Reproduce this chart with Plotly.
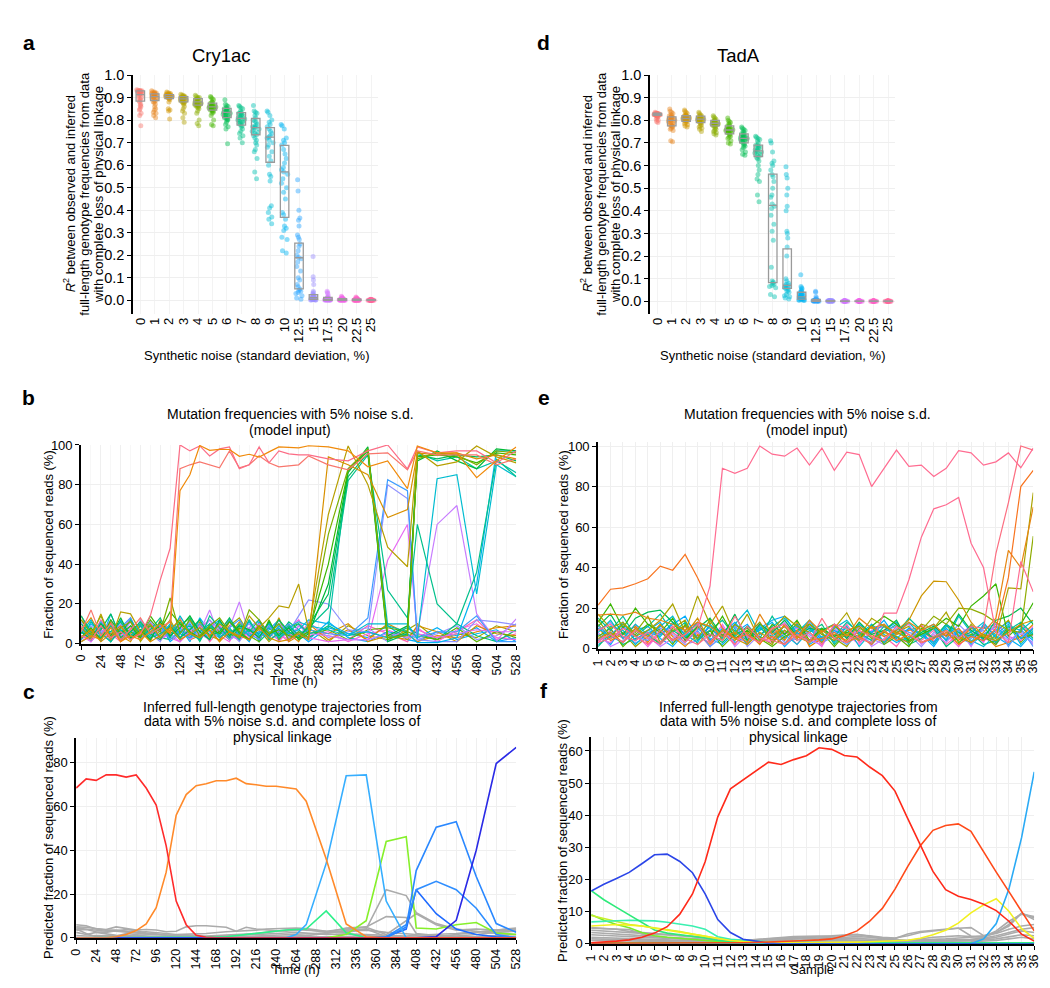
import math
import plotly.graph_objects as go

W, H = 1050, 988

# ---------------- Panel a / d : R^2 by synthetic noise ----------------
CATS = ["0", "1", "2", "3", "4", "5", "6", "7", "8", "9", "10", "12.5", "15", "17.5", "20", "22.5", "25"]

cry_0 = [0.93, 0.925, 0.935, 0.92, 0.93, 0.915, 0.928, 0.932, 0.91, 0.92, 0.905, 0.93, 0.925, 0.915, 0.9, 0.895, 0.89, 0.885, 0.88, 0.93, 0.92, 0.87, 0.865, 0.86, 0.85, 0.845, 0.83, 0.82, 0.775, 0.926]
cry_1 = [0.93, 0.925, 0.92, 0.915, 0.91, 0.905, 0.92, 0.915, 0.9, 0.91, 0.895, 0.92, 0.89, 0.885, 0.9, 0.88, 0.87, 0.86, 0.85, 0.845, 0.835, 0.83, 0.82, 0.81, 0.925, 0.912, 0.905, 0.918, 0.896, 0.88]
cry_2 = [0.925, 0.92, 0.915, 0.91, 0.91, 0.905, 0.9, 0.915, 0.908, 0.912, 0.9, 0.895, 0.92, 0.905, 0.91, 0.902, 0.898, 0.89, 0.915, 0.9, 0.91, 0.85, 0.845, 0.84, 0.805, 0.88, 0.918, 0.906, 0.9, 0.912]
cry_3 = [0.915, 0.91, 0.905, 0.9, 0.9, 0.895, 0.89, 0.885, 0.88, 0.9, 0.91, 0.905, 0.895, 0.89, 0.885, 0.88, 0.875, 0.87, 0.86, 0.85, 0.84, 0.83, 0.81, 0.79, 0.9, 0.895, 0.905, 0.888, 0.892, 0.878]
cry_4 = [0.91, 0.905, 0.9, 0.895, 0.89, 0.885, 0.88, 0.875, 0.87, 0.865, 0.86, 0.9, 0.89, 0.88, 0.87, 0.86, 0.885, 0.875, 0.87, 0.855, 0.85, 0.84, 0.83, 0.8, 0.785, 0.775, 0.895, 0.88, 0.868, 0.862]
cry_5 = [0.905, 0.9, 0.895, 0.89, 0.88, 0.875, 0.87, 0.865, 0.86, 0.855, 0.85, 0.845, 0.84, 0.87, 0.865, 0.86, 0.855, 0.85, 0.845, 0.84, 0.835, 0.83, 0.82, 0.8, 0.78, 0.775, 0.88, 0.862, 0.858, 0.85]
cry_6 = [0.89, 0.87, 0.865, 0.86, 0.855, 0.85, 0.845, 0.84, 0.835, 0.83, 0.825, 0.82, 0.815, 0.81, 0.805, 0.8, 0.85, 0.84, 0.83, 0.82, 0.81, 0.8, 0.79, 0.78, 0.77, 0.76, 0.695, 0.845, 0.835, 0.825]
cry_7 = [0.865, 0.86, 0.855, 0.85, 0.84, 0.835, 0.83, 0.825, 0.82, 0.815, 0.81, 0.805, 0.8, 0.795, 0.79, 0.785, 0.78, 0.775, 0.77, 0.76, 0.75, 0.74, 0.73, 0.72, 0.7, 0.82, 0.81, 0.8, 0.79, 0.83]
cry_8 = [0.865, 0.84, 0.835, 0.83, 0.82, 0.81, 0.8, 0.795, 0.79, 0.78, 0.775, 0.77, 0.765, 0.76, 0.755, 0.75, 0.745, 0.74, 0.735, 0.73, 0.72, 0.71, 0.7, 0.69, 0.67, 0.66, 0.63, 0.57, 0.54, 0.77]
cry_9 = [0.84, 0.835, 0.82, 0.8, 0.79, 0.78, 0.77, 0.76, 0.75, 0.74, 0.73, 0.725, 0.72, 0.71, 0.7, 0.69, 0.68, 0.66, 0.64, 0.62, 0.6, 0.56, 0.55, 0.53, 0.42, 0.41, 0.39, 0.37, 0.36, 0.34]
cry_10 = [0.78, 0.775, 0.76, 0.72, 0.71, 0.7, 0.69, 0.67, 0.65, 0.63, 0.61, 0.59, 0.58, 0.57, 0.56, 0.54, 0.52, 0.5, 0.48, 0.45, 0.39, 0.38, 0.36, 0.33, 0.32, 0.31, 0.28, 0.27, 0.22, 0.21]
cry_12_5 = [0.535, 0.485, 0.4, 0.365, 0.355, 0.33, 0.29, 0.28, 0.27, 0.25, 0.24, 0.22, 0.2, 0.19, 0.185, 0.17, 0.15, 0.13, 0.1, 0.09, 0.07, 0.06, 0.05, 0.045, 0.04, 0.035, 0.03, 0.02, 0.01, 0.005]
cry_15 = [0.195, 0.105, 0.09, 0.07, 0.04, 0.035, 0.03, 0.025, 0.02, 0.02, 0.018, 0.015, 0.012, 0.012, 0.01, 0.01, 0.008, 0.008, 0.006, 0.005, 0.005, 0.004, 0.003, 0.003, 0.002, 0.002, 0.001, 0.001, 0.015, 0.01]
cry_17_5 = [0.04, 0.035, 0.03, 0.02, 0.015, 0.012, 0.01, 0.01, 0.008, 0.007, 0.006, 0.005, 0.005, 0.004, 0.004, 0.003, 0.003, 0.002, 0.002, 0.002, 0.001, 0.001, 0.001, 0.0, 0.0, 0.006, 0.005, 0.004, 0.003, 0.002]
cry_20 = [0.018, 0.015, 0.012, 0.01, 0.008, 0.007, 0.006, 0.005, 0.004, 0.004, 0.003, 0.003, 0.002, 0.002, 0.002, 0.001, 0.001, 0.001, 0.0, 0.0, 0.005, 0.004, 0.003, 0.002, 0.001, 0.0, 0.006, 0.003, 0.002, 0.001]
cry_22_5 = [0.015, 0.012, 0.01, 0.008, 0.006, 0.005, 0.004, 0.003, 0.003, 0.002, 0.002, 0.002, 0.001, 0.001, 0.001, 0.0, 0.0, 0.0, 0.004, 0.003, 0.002, 0.001, 0.0, 0.005, 0.003, 0.002, 0.001, 0.0, 0.002, 0.001]
cry_25 = [0.005, 0.004, 0.003, 0.003, 0.002, 0.002, 0.002, 0.001, 0.001, 0.001, 0.001, 0.0, 0.0, 0.0, 0.0, 0.003, 0.002, 0.001, 0.0, 0.0, 0.002, 0.001, 0.0, 0.001, 0.0, 0.002, 0.001, 0.0, 0.001, 0.0]

CRY_Q1 = [0.884, 0.887, 0.895, 0.881, 0.866, 0.844, 0.811, 0.778, 0.735, 0.613, 0.368, 0.051, 0.004, 0.0, 0.0, 0.0, 0.0]
CRY_MED = [0.913, 0.904, 0.904, 0.894, 0.881, 0.859, 0.834, 0.808, 0.767, 0.724, 0.570, 0.189, 0.012, 0.004, 0.003, 0.002, 0.001]
CRY_Q3 = [0.930, 0.916, 0.913, 0.904, 0.895, 0.875, 0.852, 0.833, 0.807, 0.767, 0.688, 0.254, 0.025, 0.013, 0.008, 0.005, 0.003]

tad_0 = [0.835, 0.832, 0.83, 0.83, 0.828, 0.826, 0.826, 0.825, 0.824, 0.822, 0.82, 0.83, 0.828, 0.826, 0.824, 0.822, 0.82, 0.818, 0.815, 0.81, 0.805, 0.8, 0.795, 0.79, 0.827, 0.829, 0.825, 0.823, 0.831, 0.826]
tad_1 = [0.85, 0.84, 0.835, 0.83, 0.825, 0.82, 0.815, 0.81, 0.805, 0.8, 0.8, 0.795, 0.79, 0.785, 0.78, 0.775, 0.77, 0.765, 0.76, 0.755, 0.82, 0.81, 0.8, 0.79, 0.78, 0.775, 0.71, 0.705, 0.805, 0.812]
tad_2 = [0.845, 0.84, 0.835, 0.83, 0.825, 0.82, 0.815, 0.81, 0.81, 0.805, 0.8, 0.8, 0.795, 0.79, 0.785, 0.78, 0.775, 0.77, 0.82, 0.815, 0.81, 0.805, 0.8, 0.812, 0.808, 0.818, 0.798, 0.822, 0.806, 0.81]
tad_3 = [0.835, 0.83, 0.825, 0.82, 0.815, 0.81, 0.81, 0.805, 0.8, 0.8, 0.795, 0.79, 0.785, 0.78, 0.775, 0.77, 0.765, 0.76, 0.75, 0.82, 0.815, 0.805, 0.8, 0.81, 0.808, 0.802, 0.812, 0.798, 0.79, 0.806]
tad_4 = [0.82, 0.815, 0.81, 0.805, 0.8, 0.795, 0.79, 0.79, 0.785, 0.785, 0.78, 0.78, 0.775, 0.77, 0.765, 0.76, 0.755, 0.75, 0.745, 0.74, 0.735, 0.8, 0.795, 0.79, 0.785, 0.78, 0.775, 0.788, 0.792, 0.782]
tad_5 = [0.81, 0.8, 0.795, 0.79, 0.785, 0.78, 0.775, 0.77, 0.765, 0.76, 0.76, 0.755, 0.75, 0.75, 0.745, 0.74, 0.735, 0.73, 0.725, 0.72, 0.71, 0.7, 0.695, 0.77, 0.76, 0.755, 0.75, 0.745, 0.762, 0.758]
tad_6 = [0.77, 0.765, 0.76, 0.755, 0.75, 0.745, 0.74, 0.735, 0.73, 0.725, 0.72, 0.72, 0.715, 0.71, 0.705, 0.7, 0.695, 0.69, 0.685, 0.68, 0.67, 0.66, 0.65, 0.645, 0.73, 0.72, 0.71, 0.725, 0.715, 0.735]
tad_7 = [0.73, 0.725, 0.72, 0.715, 0.71, 0.7, 0.69, 0.685, 0.68, 0.675, 0.67, 0.665, 0.66, 0.655, 0.65, 0.645, 0.64, 0.635, 0.63, 0.62, 0.6, 0.58, 0.56, 0.54, 0.53, 0.47, 0.44, 0.67, 0.66, 0.69]
tad_8 = [0.71, 0.7, 0.66, 0.62, 0.61, 0.6, 0.58, 0.56, 0.55, 0.53, 0.5, 0.47, 0.46, 0.43, 0.42, 0.41, 0.38, 0.34, 0.31, 0.27, 0.15, 0.09, 0.085, 0.08, 0.075, 0.07, 0.065, 0.06, 0.03, 0.02]
tad_9 = [0.595, 0.56, 0.545, 0.5, 0.47, 0.42, 0.4, 0.31, 0.3, 0.28, 0.24, 0.2, 0.1, 0.09, 0.08, 0.075, 0.07, 0.065, 0.06, 0.06, 0.055, 0.05, 0.045, 0.04, 0.03, 0.025, 0.02, 0.015, 0.01, 0.07]
tad_10 = [0.117, 0.065, 0.06, 0.055, 0.05, 0.045, 0.04, 0.035, 0.03, 0.03, 0.025, 0.02, 0.02, 0.018, 0.015, 0.015, 0.012, 0.01, 0.01, 0.008, 0.008, 0.006, 0.005, 0.005, 0.004, 0.03, 0.025, 0.02, 0.04, 0.035]
tad_12_5 = [0.045, 0.04, 0.02, 0.015, 0.01, 0.008, 0.006, 0.005, 0.004, 0.004, 0.003, 0.003, 0.002, 0.002, 0.002, 0.001, 0.001, 0.001, 0.0, 0.0, 0.005, 0.004, 0.003, 0.002, 0.001, 0.0, 0.006, 0.003, 0.002, 0.001]
tad_15 = [0.004, 0.003, 0.003, 0.002, 0.002, 0.002, 0.001, 0.001, 0.001, 0.001, 0.0, 0.0, 0.0, 0.0, 0.003, 0.002, 0.002, 0.001, 0.001, 0.0]
tad_17_5 = [0.003, 0.002, 0.002, 0.001, 0.001, 0.001, 0.0, 0.0, 0.0, 0.002, 0.001, 0.001, 0.0, 0.0, 0.002, 0.001, 0.0, 0.001, 0.0, 0.0]
tad_20 = [0.003, 0.002, 0.001, 0.001, 0.001, 0.0, 0.0, 0.0, 0.002, 0.001, 0.001, 0.0, 0.0, 0.002, 0.001, 0.0, 0.001, 0.0, 0.0, 0.001]
tad_22_5 = [0.002, 0.002, 0.001, 0.001, 0.0, 0.0, 0.0, 0.001, 0.001, 0.0, 0.0, 0.002, 0.001, 0.0, 0.001, 0.0, 0.0, 0.001, 0.0, 0.0]
tad_25 = [0.002, 0.001, 0.001, 0.0, 0.0, 0.0, 0.001, 0.0, 0.0, 0.001, 0.0, 0.0, 0.002, 0.001, 0.0, 0.0, 0.001, 0.0, 0.0, 0.0]

TAD_Q1 = [0.822, 0.775, 0.795, 0.79, 0.775, 0.74, 0.70, 0.64, 0.083, 0.057, 0.01, 0.0, 0.0, 0.0, 0.0, 0.0, 0.0]
TAD_MED = [0.826, 0.80, 0.808, 0.805, 0.787, 0.757, 0.72, 0.665, 0.424, 0.07, 0.02, 0.003, 0.001, 0.0, 0.0, 0.0, 0.0]
TAD_Q3 = [0.832, 0.815, 0.82, 0.818, 0.80, 0.775, 0.74, 0.69, 0.562, 0.232, 0.04, 0.008, 0.003, 0.002, 0.002, 0.002, 0.002]

R2_TICKS = [0.0, 0.1, 0.2, 0.3, 0.4, 0.5, 0.6, 0.7, 0.8, 0.9, 1.0]
R2_TICKTEXT = ["0.0", "0.1", "0.2", "0.3", "0.4", "0.5", "0.6", "0.7", "0.8", "0.9", "1.0"]

# ---------------- Panels b / c : Cry1ac time course ----------------
TIME_H = [0, 12, 24, 36, 48, 60, 72, 84, 96, 108, 120, 132, 144, 156, 168, 180, 192, 204, 216, 228, 240, 252, 264, 276,
          300, 324, 348, 372, 396, 408, 432, 456, 480, 504, 528]
TIME_TICKS = [0, 24, 48, 72, 96, 120, 144, 168, 192, 216, 240, 264, 288, 312, 336, 360, 384, 408, 432, 456, 480, 504, 528]

b_pinkA = [4, 2, 9, 3, 6, 2, 5, 14, 32, 48, 100, 97, 99.5, 94.5, 98, 99, 88, 90, 99, 91, 97, 95.5, 95, 95] + [93, 92, 97, 100, 88, 99, 96, 97, 97, 91, 97]
b_salmon = [6, 17, 4, 10, 2, 7, 13, 5, 8, 11, 88, 90, 91.5, 90, 88.5, 97, 88.5, 90, 94.5, 91, 89, 89.5, 90, 94.5] + [90, 87.5, 95.5, 96, 87.5, 97, 95, 95, 95, 90, 93]
b_orange = [1, 4, 2, 8, 1, 4, 2, 6, 10, 5, 77, 85, 99.7, 97.3, 97.8, 97.7, 94.3, 95.3, 93.9, 96.5, 99, 98.8, 98.5, 99.6] + [99, 97, 89, 92, 78, 99.5, 96, 96, 83.5, 92, 99]
b_gold = [3, 7, 1, 5, 9, 2, 6, 1, 4, 8, 2, 5, 3, 7, 1, 6, 4, 2, 8, 3, 1, 2, 5, 2] + [94, 90, 85, 63.5, 67.5, 96, 95, 96, 93, 95, 93]
b_olive = [8, 3, 15, 2, 16, 15, 6, 10, 3, 7, 12, 5, 8, 4, 10, 6, 3, 14, 8, 13, 19, 18, 30, 7] + [65, 99.5, 80, 48.5, 38.7, 97, 89.5, 91.5, 99.5, 94, 91]
b_yg = [12, 5, 14, 3, 8, 11, 4, 9, 6, 23, 5, 12, 4, 9, 13, 6, 3, 17, 12, 5, 10, 2, 6, 3] + [55, 88, 98, 3, 4, 93, 96, 95, 90, 97, 96]
b_green1 = [3, 8, 2, 12, 5, 9, 3, 14, 7, 16, 10, 6, 3, 8, 5, 11, 6, 2, 9, 5, 7, 4, 3, 6] + [40, 87, 97, 2, 6, 94, 95, 94, 91, 96, 95]
b_green2 = [6, 2, 10, 4, 13, 3, 7, 2, 11, 4, 8, 14, 6, 2, 12, 4, 9, 7, 3, 11, 4, 8, 2, 5] + [30, 86, 99, 4, 9, 92, 97, 92, 88, 98, 97]
b_green3 = [10, 4, 7, 15, 3, 6, 11, 5, 2, 9, 3, 7, 12, 4, 6, 13, 5, 2, 8, 4, 12, 6, 3, 9] + [25, 84, 96, 1, 5, 95, 93, 95, 94, 95, 92]
b_tg1 = [14, 6, 3, 9, 5, 12, 4, 7, 13, 3, 11, 5, 2, 14, 8, 3, 10, 6, 12, 2, 5, 9, 4, 8] + [18, 82, 95, 27, 13, 60, 20, 10, 36, 93, 84]
b_tg2 = [2, 11, 5, 1, 7, 4, 9, 3, 5, 8, 2, 13, 6, 10, 3, 7, 2, 12, 4, 8, 3, 6, 10, 5] + [8, 88, 97, 9, 6, 96, 92, 94, 88, 92, 86]
b_cyan1 = [5, 12, 3, 9, 2, 6, 10, 4, 11, 3, 14, 6, 2, 9, 4, 12, 3, 7, 5, 10, 3, 8, 11, 9] + [7, 4, 10, 10, 10, 2.5, 83, 85, 25, 90, 84]
b_cyan2 = [8, 3, 10, 5, 7, 2, 9, 6, 4, 10, 5, 3, 8, 2, 11, 5, 9, 4, 6, 3, 9, 5, 7, 12] + [10, 5, 6, 3, 5, 0.5, 0.5, 3, 30, 97, 97]
b_blue = [7, 2, 11, 4, 8, 13, 3, 6, 9, 2, 7, 4, 10, 6, 3, 8, 12, 5, 2, 9, 6, 10, 4, 7] + [5, 4, 13, 82.5, 77, 3, 6, 6, 14, 1, 1]
b_lav = [3, 9, 5, 12, 2, 7, 4, 11, 6, 9, 3, 8, 5, 12, 7, 2, 6, 10, 4, 8, 10, 6, 14, 22] + [20, 7, 6, 80, 73, 2, 1, 1, 12, 11, 9.5]
b_purple = [2, 6, 3, 8, 4, 11, 5, 3, 7, 4, 9, 2, 6, 17, 3, 8, 21, 5, 10, 4, 7, 3, 9, 5] + [4, 2, 2, 5, 3, 5, 60, 69.5, 15, 1.5, 12.5]
b_magenta = [4, 1, 7, 2, 9, 3, 6, 8, 2, 5, 1, 7, 3, 5, 9, 4, 2, 6, 3, 8, 5, 2, 4, 3] + [1, 2, 2, 42, 60, 5, 3, 5, 7, 6, 6]
b_n1 = [9, 3, 12, 5, 1, 8, 4, 11, 2, 6, 13, 3, 9, 1, 7, 12, 4, 8, 2, 10, 5, 1, 9, 6] + [4, 2, 9, 5, 1, 7, 3, 6, 12, 2, 5]
b_n2 = [2, 10, 6, 1, 12, 4, 7, 3, 9, 1, 5, 10, 2, 8, 12, 3, 6, 1, 11, 4, 8, 3, 5, 1] + [8, 5, 3, 9, 2, 1, 6, 4, 8, 1, 3]
b_n3 = [14, 5, 2, 9, 6, 11, 1, 8, 5, 12, 3, 7, 11, 4, 2, 9, 13, 5, 7, 1, 6, 10, 2, 8] + [1, 9, 4, 2, 7, 10, 2, 5, 3, 9, 6]
b_n4 = [5, 8, 1, 15, 3, 9, 6, 2, 10, 4, 8, 1, 13, 6, 9, 2, 5, 11, 3, 7, 12, 4, 6, 2] + [11, 3, 1, 6, 4, 3, 8, 2, 5, 7, 1]
b_n5 = [11, 1, 7, 4, 10, 2, 12, 5, 1, 9, 3, 11, 5, 2, 10, 6, 1, 8, 12, 5, 2, 9, 3, 11] + [3, 6, 8, 1, 9, 2, 5, 9, 2, 4, 10]
b_n6 = [3, 6, 9, 2, 5, 13, 2, 10, 7, 3, 1, 6, 8, 12, 4, 1, 9, 3, 6, 10, 1, 7, 12, 4] + [6, 1, 5, 7, 3, 8, 1, 7, 10, 3, 2]
b_n7 = [7, 13, 4, 10, 1, 5, 9, 1, 12, 6, 10, 2, 4, 7, 1, 11, 7, 2, 10, 3, 9, 5, 1, 10] + [2, 7, 2, 10, 5, 1, 4, 3, 6, 8, 9]
b_n8 = [1, 4, 8, 6, 11, 3, 7, 9, 3, 2, 6, 9, 1, 10, 5, 8, 2, 12, 1, 6, 4, 11, 7, 3] + [9, 4, 6, 3, 8, 5, 2, 10, 4, 1, 7]
b_n9 = [12, 7, 3, 11, 4, 1, 10, 6, 8, 11, 2, 5, 10, 3, 8, 4, 11, 6, 9, 2, 13, 1, 4, 7] + [5, 10, 1, 4, 2, 9, 6, 1, 9, 5, 4]
b_n10 = [4, 2, 11, 1, 8, 6, 3, 12, 6, 5, 9, 13, 3, 9, 6, 2, 8, 4, 1, 12, 2, 8, 10, 5] + [7, 2, 7, 8, 6, 4, 2, 8, 1, 6, 3]

c_red = [68.4, 72.6, 71.9, 74.4, 74.4, 73.4, 74.4, 68.4, 60.6, 42, 16.8, 6, 1.2, 0.2, 0, 0, 0, 0, 0, 0, 0, 0, 0, 0] + [0, 0, 0, 0, 0, 0, 0, 0, 0, 0, 0]
c_orange = [0, 0, 0, 0, 0.5, 1.5, 3.3, 6.3, 13.8, 30, 56, 65.4, 69.5, 70.4, 71.7, 71.7, 72.9, 70.4, 69.9, 69.2, 69.2, 68.6, 68, 62.4] + [36, 6.3, 0.5, 0, 0, 0, 0, 0, 0, 0, 0]
c_lightblue = [0, 0, 0, 0, 0, 0, 0, 0, 0, 0, 0, 0, 0, 0, 0, 0, 0, 0, 0, 0, 0, 0, 1.5, 6] + [34, 74, 74.4, 16.8, 0, 0, 0, 0, 0, 0, 0]
c_spring = [0, 0, 0, 0, 0, 0, 0, 0, 0, 0, 0, 0, 0, 0, 0.3, 0.5, 1, 1.5, 2, 2.8, 3.3, 3.6, 3.8, 4] + [12.3, 2.3, 0, 0, 0, 0, 0, 0, 0, 0, 0]
c_lime = [0, 0, 0, 0, 0, 0, 0, 0, 0, 0, 0, 0, 0, 0, 0, 0, 0, 0, 0, 0, 0, 0, 0, 0] + [0, 1.5, 7.8, 44, 46.2, 4.5, 4, 6, 7, 2.2, 1.5]
c_blueA = [0, 0, 0, 0, 0, 0, 0, 0, 0, 0, 0, 0, 0, 0, 0, 0, 0, 0, 0, 0, 0, 0, 0, 0] + [0, 0, 0, 0, 5, 30.7, 50.5, 53, 28, 6.5, 2.5]
c_blueB = [0, 0, 0, 0, 0, 0, 0, 0, 0, 0, 0, 0, 0, 0, 0, 0, 0, 0, 0, 0, 0, 0, 0, 0] + [0, 0, 0, 0.5, 6, 22, 25.8, 22, 13.5, 1.5, 0]
c_blueC = [0, 0, 0, 0, 0, 0, 0, 0, 0, 0, 0, 0, 0, 0, 0, 0, 0, 0, 0, 0, 0, 0, 0, 0] + [0, 0, 0, 0.5, 4, 22, 11, 4, 1.5, 0.5, 0]
c_darkblue = [0, 0, 0, 0, 0, 0, 0, 0, 0, 0, 0, 0, 0, 0, 0, 0, 0, 0, 0, 0, 0, 0, 0, 0] + [0, 0, 0, 0, 0, 0, 0.5, 8, 40, 79.6, 87]
c_g1 = [6, 5.5, 4, 3.5, 3.5, 3, 2.5, 2.8, 2.5, 2, 1.5, 1.5, 1.8, 2, 2.5, 2.8, 3, 3.2, 3.5, 4, 4.2, 4.5, 4.5, 4.2] + [3, 2.5, 4, 22, 19.3, 11.5, 6.5, 4, 3, 2, 1.5]
c_g2 = [5, 4.8, 4.2, 3.8, 5, 4.3, 3.5, 3.8, 3.6, 2.8, 3, 5, 5.5, 5.5, 5, 4.8, 3, 4.8, 4, 3.5, 3.2, 3, 3.5, 3.8] + [2.5, 4.5, 5, 9.7, 9.3, 2, 1, 0.8, 1.5, 2.5, 3]
c_g3 = [4.5, 4, 3.2, 3, 3, 2.5, 2, 1.8, 1.5, 1.5, 1.2, 1, 0.8, 0.8, 1, 1.2, 1.5, 1.8, 2, 2.5, 3, 3.5, 4, 3.5] + [3, 4, 4.8, 1.5, 8, 11, 6, 3.5, 4, 3.5, 4]
c_g4 = [3.5, 3.8, 2.8, 2.5, 3.2, 3.8, 3.2, 2.2, 1.8, 1.2, 1, 0.8, 0.5, 0.5, 0.5, 0.8, 1, 1.2, 1.5, 1.8, 2, 2.2, 2.5, 2.2] + [1.5, 1.8, 1.5, 1, 0.8, 1.2, 1.5, 2, 2.8, 3, 3.5]
c_g5 = [2.5, 1.5, 2.5, 1.8, 1.2, 1, 1.2, 1.5, 1.5, 1.2, 0.8, 0.5, 0.3, 0.3, 0.3, 0.4, 0.5, 0.6, 0.8, 1, 1.2, 1.4, 1.6, 1.8] + [2.2, 3, 3.5, 2.5, 2, 1.5, 0.8, 0.5, 0.5, 0.5, 0.5]
c_g6 = [1, 0.8, 1, 0.9, 0.8, 0.7, 0.6, 0.5, 0.5, 0.4, 0.4, 0.3, 0.3, 0.3, 0.3, 0.3, 0.3, 0.3, 0.4, 0.5, 0.6, 0.7, 0.8, 1] + [2, 3.5, 4, 0.5, 0.2, 0.2, 0.5, 1.5, 2.5, 3.5, 4.5]
c_g7 = [4, 2, 0.5, 1, 0.8, 2, 1.5, 0.6, 0.5, 0.5, 0.3, 0.3, 0.2, 0.2, 0.2, 0.2, 0.2, 0.2, 0.2, 0.2, 0.3, 0.3, 0.3, 0.4] + [0.5, 0.6, 1, 0.3, 0.2, 0.2, 0.2, 0.3, 0.5, 1, 1.5]

# ---------------- Panels e / f : TadA samples ----------------
SAMPLES = list(range(1, 37))

e_pink1 = [4, 7, 3, 9, 5, 2, 8, 3, 10, 31, 89, 86.5, 89, 100, 96, 95, 99, 90.6, 99, 88, 97, 95.8, 80, 89, 98, 90, 90.6, 85, 89, 97.7, 96.6, 90.6, 92.2, 96.6, 89.3, 99]
e_pink2 = [9, 12, 6, 4, 8, 3, 11, 5, 2, 7, 4, 16, 6, 3, 10, 12, 4, 8, 2, 12, 10, 5, 3, 17.5, 17.5, 34, 55, 69, 71, 74.6, 52, 40, 8, 3, 43, 28]
e_pink3 = [3, 5, 10, 6, 2, 9, 4, 7, 12, 3, 8, 2, 11, 5, 4, 2, 7, 3, 15, 5, 3, 9, 6, 4, 11, 7, 3, 6, 9, 5, 11, 10, 47, 72, 100, 98]
e_orange1 = [21.5, 29.3, 30, 32, 34.5, 40.7, 38.7, 46.5, 35, 22, 10, 5, 7, 3, 6, 2, 9, 4, 5, 8, 3, 6, 2, 9, 4, 7, 3, 5, 8, 2, 6, 4, 10, 35, 80, 88]
e_orange2 = [16.5, 17, 16.5, 18, 15, 14, 12, 9, 13, 11, 6, 8, 3, 17, 7, 11, 5, 14, 8, 12, 6, 15, 10, 12, 7, 13, 9, 12, 6, 10, 3, 8, 15, 48.5, 40, 70]
e_gold = [5, 8, 3, 10, 6, 12, 4, 7, 15, 3, 9, 5, 2, 8, 4, 12, 6, 3, 9, 5, 7, 4, 11, 6, 9, 14, 26, 33.3, 33, 24, 13, 6, 4, 8, 12, 14]
e_olive = [17, 10, 13, 6, 9, 14, 22, 8, 26, 12, 21, 7, 17, 4, 9, 16, 11, 8, 3, 10, 17.7, 6, 15, 11, 8, 5, 12, 10, 18, 6, 3, 7, 5, 30, 29.5, 77]
e_yg = [14, 6, 12, 8, 16, 3, 9, 11, 5, 14, 4, 12, 7, 13, 3, 9, 5, 12, 7, 4, 9, 11, 5, 8, 6, 3, 9, 16, 12, 20, 19.5, 17, 13, 9, 8, 55.5]
e_green1 = [13, 22, 10, 20, 12, 8, 15, 4, 11, 6, 16, 5, 9, 3, 12, 7, 14, 4, 10, 6, 8, 5, 11, 16, 12, 4, 7, 10, 15, 11, 21, 26, 32, 6, 12, 22.6]
e_green2 = [11, 17, 7, 15, 18, 19, 13, 5, 10, 15, 6, 17, 4, 12, 8, 14, 6, 10, 9, 12, 5, 13, 7, 9, 14, 3, 8, 11, 6, 17, 9, 5, 14, 16, 20, 12]
e_teal = [15, 9, 16, 6, 11, 17, 8, 13, 4, 9, 14, 6, 11, 5, 16, 7, 12, 3, 10, 6, 13, 8, 4, 11, 7, 15, 9, 5, 12, 8, 6, 11, 3, 9, 13, 7]
e_cyan = [8, 14, 5, 12, 7, 11, 16, 6, 13, 10, 5, 12, 19, 7, 11, 15, 8, 14, 5, 10, 14, 7, 12, 3, 9, 13, 6, 10, 4, 16, 8, 13, 5, 11, 9, 14]
e_blue = [10, 6, 13, 4, 9, 7, 12, 16, 5, 11, 8, 13, 6, 10, 14, 16, 7, 11, 4, 9, 6, 12, 8, 14, 5, 10, 7, 3, 12, 6, 11, 4, 9, 13, 5, 10]
e_n1 = [3, 9, 5, 12, 2, 7, 11, 4, 8, 1, 10, 6, 3, 13, 5, 9, 2, 11, 7, 4, 12, 3, 8, 6, 1, 10, 4, 9, 2, 7, 11, 5, 3, 8, 12, 6]
e_n2 = [7, 2, 11, 4, 9, 13, 3, 6, 10, 5, 2, 8, 12, 4, 9, 1, 7, 10, 3, 11, 6, 8, 2, 9, 13, 4, 7, 1, 10, 5, 3, 12, 6, 2, 9, 4]
e_n3 = [12, 5, 8, 1, 6, 3, 10, 14, 2, 9, 7, 4, 11, 6, 2, 12, 8, 3, 9, 5, 1, 10, 7, 4, 8, 11, 3, 6, 9, 2, 12, 4, 8, 14, 3, 10]
e_n4 = [2, 6, 3, 9, 11, 5, 1, 8, 12, 4, 10, 3, 6, 9, 13, 5, 11, 2, 6, 8, 10, 4, 12, 7, 3, 6, 9, 12, 4, 8, 2, 7, 11, 5, 1, 8]
e_n5 = [9, 13, 6, 3, 5, 10, 7, 2, 4, 11, 8, 12, 1, 7, 10, 3, 5, 13, 4, 9, 3, 11, 5, 2, 10, 7, 1, 8, 5, 12, 6, 9, 2, 10, 7, 3]
e_n6 = [5, 3, 10, 7, 1, 8, 4, 11, 6, 3, 12, 2, 9, 5, 3, 8, 10, 6, 1, 12, 7, 2, 9, 11, 5, 3, 12, 4, 7, 1, 9, 3, 13, 6, 4, 11]
e_n7 = [1, 8, 2, 5, 7, 2, 9, 5, 11, 7, 3, 9, 4, 10, 6, 11, 4, 8, 12, 2, 9, 5, 3, 8, 12, 2, 5, 10, 1, 6, 8, 2, 4, 9, 11, 5]
e_n8 = [10, 4, 7, 11, 3, 12, 6, 1, 7, 2, 9, 5, 8, 2, 11, 4, 13, 1, 5, 7, 4, 12, 6, 3, 7, 9, 11, 3, 8, 4, 10, 7, 1, 3, 6, 12]
e_n9 = [4, 11, 9, 2, 8, 6, 13, 7, 3, 12, 5, 10, 2, 11, 4, 7, 2, 9, 10, 3, 11, 1, 8, 12, 4, 5, 8, 2, 11, 9, 4, 1, 7, 12, 2, 9]
e_n10 = [8, 1, 4, 10, 6, 1, 5, 9, 13, 6, 11, 1, 7, 3, 8, 13, 6, 4, 2, 10, 5, 9, 1, 5, 9, 12, 2, 7, 3, 10, 1, 11, 9, 4, 8, 2]
e_n11 = [6, 10, 1, 7, 12, 9, 2, 12, 5, 9, 1, 7, 10, 5, 1, 6, 9, 12, 8, 1, 8, 6, 11, 2, 6, 1, 10, 5, 12, 3, 7, 6, 2, 11, 5, 7]
e_n12 = [11, 7, 12, 6, 4, 11, 8, 3, 9, 1, 6, 11, 5, 12, 7, 2, 12, 7, 3, 6, 2, 7, 4, 9, 11, 8, 6, 11, 4, 9, 5, 10, 12, 1, 10, 1]

f_red1 = [0.3, 0.5, 0.8, 1.2, 2, 3.3, 5.3, 9.2, 15.5, 25.5, 39.5, 48.2, 51, 53.7, 56.5, 55.8, 57.3, 58.5, 61, 60.5, 58.6, 58.1, 55, 52.3, 47.5, 39, 30.5, 22.5, 16.8, 14.8, 13.8, 12.3, 10.3, 7, 3, 0.8]
f_red2 = [0.1, 0.1, 0.1, 0.1, 0.1, 0.1, 0.1, 0.1, 0.1, 0.1, 0.2, 0.2, 0.3, 0.4, 0.5, 0.6, 0.8, 1, 1.2, 1.5, 2.5, 4, 7, 11, 17, 24, 30.5, 35.3, 36.8, 37.3, 35, 28.5, 22.3, 16.2, 10, 4]
f_blue = [16.4, 18.5, 20.3, 22.2, 24.9, 27.7, 27.9, 25.6, 22.1, 15.5, 7.5, 3.5, 1.4, 0.7, 0.2, 0, 0, 0, 0, 0, 0, 0, 0, 0, 0, 0, 0, 0, 0, 0, 0, 0, 0, 0, 0, 0]
f_spring = [16.5, 13.7, 11.3, 9, 6.5, 4.3, 3.3, 2.8, 2.3, 1.8, 1, 0.6, 0.4, 0.3, 0.2, 0.2, 0.2, 0.2, 0.2, 0.2, 0.2, 0.2, 0.2, 0.2, 0.2, 0.2, 0.2, 0.2, 0.2, 0.2, 0.2, 0.2, 0.2, 0.2, 0.2, 0.2]
f_aqua = [6.8, 7, 7, 7.3, 7.2, 7.1, 6.7, 6, 5.5, 4.5, 2.2, 1.4, 1, 0.8, 0.6, 0.5, 0.4, 0.3, 0.3, 0.3, 0.3, 0.3, 0.3, 0.3, 0.3, 0.3, 0.3, 0.3, 0.3, 0.3, 0.3, 0.3, 0.3, 0.3, 0.3, 0.3]
f_yg = [8.8, 7.8, 6.8, 6, 5.5, 5, 4.5, 3.8, 3, 2.3, 1.5, 1, 0.7, 0.5, 0.4, 0.3, 0.3, 0.3, 0.3, 0.3, 0.3, 0.3, 0.3, 0.3, 0.3, 0.3, 0.3, 0.3, 0.3, 0.3, 0.3, 0.3, 0.3, 0.3, 0.3, 0.3]
f_lime = [9, 7.3, 6, 5, 3.5, 2.5, 2, 1.6, 1.2, 1, 0.7, 0.5, 0.4, 0.3, 0.2, 0.2, 0.2, 0.2, 0.2, 0.2, 0.2, 0.2, 0.2, 0.2, 0.2, 0.2, 0.2, 0.2, 0.2, 0.2, 0.2, 0.2, 0.2, 0.2, 0.2, 0.2]
f_yellow = [5.5, 5.7, 6, 5.8, 5.5, 4.8, 4.3, 3.6, 3, 2.3, 1.5, 1, 0.7, 0.5, 0.4, 0.3, 0.3, 0.3, 0.3, 0.3, 0.4, 0.5, 0.6, 0.7, 0.8, 1.1, 1.7, 2.8, 4.2, 6.4, 9.6, 12.1, 14, 10.1, 4.7, 1.7]
f_lightblue = [0, 0, 0, 0, 0, 0, 0, 0, 0, 0, 0, 0, 0, 0, 0, 0, 0, 0, 0, 0, 0, 0, 0, 0, 0, 0, 0, 0, 0, 0, 0, 1.5, 6.3, 17, 33, 53.5]
f_green = [0.2, 0.2, 0.2, 0.2, 0.2, 0.2, 0.2, 0.2, 0.2, 0.2, 0.2, 0.2, 0.2, 0.2, 0.2, 0.2, 0.2, 0.2, 0.2, 0.2, 0.2, 0.2, 0.2, 0.2, 0.2, 0.2, 0.2, 0.2, 0.2, 0.2, 0.2, 0.2, 0.2, 0.2, 0.2, 0.2]
f_g1 = [5, 4.8, 4.5, 3.8, 3.5, 3.2, 3, 2.8, 2.5, 2, 1.5, 1.2, 1, 1, 1.2, 1.5, 1.8, 2, 2.2, 2.4, 2.6, 2.8, 2.5, 2, 1.8, 2.5, 3.5, 4, 4.3, 4.8, 5, 2.5, 3.5, 5.5, 9.5, 8]
f_g2 = [4.2, 4, 3.8, 3.5, 3.2, 3, 2.7, 2.5, 2.2, 1.8, 1.4, 1.1, 1, 1.2, 1.5, 1.8, 2, 1.5, 1.8, 2, 2, 2.2, 2, 1.5, 1.2, 1, 1.5, 2, 2.2, 2.5, 2.2, 2, 3.5, 6, 9.5, 7.5]
f_g3 = [3.5, 3.3, 3, 2.8, 2.5, 2.3, 2, 1.8, 1.5, 1.2, 1, 0.8, 0.8, 1, 1.2, 1.3, 1.5, 1.6, 1.7, 1.8, 1.8, 1.6, 1.4, 1.2, 1, 1, 1.2, 1.3, 1.5, 1.8, 2, 2.5, 3.2, 4.5, 5.5, 6]
f_g4 = [2.8, 2.6, 2.4, 2.2, 2, 1.8, 1.6, 1.4, 1.2, 1, 0.8, 0.7, 0.7, 0.8, 1, 1.1, 1.2, 1.3, 1.3, 1.3, 1.2, 1.1, 1, 0.9, 0.8, 0.8, 0.9, 1, 1.1, 1.2, 1.4, 1.8, 2.5, 3.5, 4.5, 5]
f_g5 = [2, 1.9, 1.8, 1.6, 1.5, 1.4, 1.2, 1, 0.9, 0.8, 0.6, 0.5, 0.5, 0.6, 0.7, 0.8, 0.9, 1, 1, 1, 1, 0.9, 0.8, 0.7, 0.6, 0.6, 0.7, 0.8, 0.9, 1, 1.2, 1.5, 2, 3, 4, 3.5]
f_g6 = [1.5, 1.4, 1.3, 1.2, 1.1, 1, 0.9, 0.8, 0.7, 0.6, 0.5, 0.4, 0.4, 0.4, 0.5, 0.5, 0.6, 0.6, 0.6, 0.6, 0.6, 0.5, 0.5, 0.5, 0.4, 0.4, 0.5, 0.6, 0.7, 0.8, 1, 1.2, 1.5, 2.2, 2.8, 2.5]
f_g7 = [1, 1, 0.9, 0.8, 0.8, 0.7, 0.6, 0.5, 0.5, 0.4, 0.3, 0.3, 0.3, 0.3, 0.3, 0.3, 0.4, 0.4, 0.4, 0.4, 0.4, 0.3, 0.3, 0.3, 0.3, 0.3, 0.3, 0.4, 0.4, 0.5, 0.6, 0.8, 1, 1.5, 2, 1.5]
f_g8 = [4.8, 4.6, 4.6, 4.4, 3, 2.2, 1.8, 1.5, 1.2, 1, 0.9, 0.8, 1, 1.3, 1.6, 2, 2.2, 2.3, 2.3, 2.5, 2.7, 2.9, 2.3, 1.8, 1.6, 3, 3.8, 4.2, 4.6, 4.9, 2.4, 2.2, 4, 7, 9.2, 8.5]


# ---------------- helpers ----------------
def hcl_hex(h, c=100.0, l=65.0):
    hr = math.radians(h)
    U, V = c * math.cos(hr), c * math.sin(hr)
    Xn, Yn, Zn = 95.047, 100.0, 108.883
    un = 4 * Xn / (Xn + 15 * Yn + 3 * Zn)
    vn = 9 * Yn / (Xn + 15 * Yn + 3 * Zn)
    Y = Yn * ((l + 16) / 116) ** 3
    u = U / (13 * l) + un
    v = V / (13 * l) + vn
    X = 9 * Y * u / (4 * v)
    Z = 3 * Y / v - X / 3 - 5 * Y
    X, Y, Z = X / 100, Y / 100, Z / 100
    r = 3.240479 * X - 1.537150 * Y - 0.498535 * Z
    g = -0.969256 * X + 1.875992 * Y + 0.041556 * Z
    b = 0.055648 * X - 0.204043 * Y + 1.057311 * Z

    def gam(t):
        t = 1.055 * t ** (1 / 2.4) - 0.055 if t > 0.0031308 else 12.92 * t
        return max(0.0, min(1.0, t))
    return "#%02x%02x%02x" % tuple(int(round(255 * gam(t))) for t in (r, g, b))


def px(xp):
    return xp / W


def py(yp):
    return 1 - yp / H


FONT = "Liberation Sans, Arial, Helvetica, sans-serif"
GRID = "#EFEFEF"

fig = go.Figure()

# ---------------- box panels ----------------
HUE17 = [hcl_hex(15 + 360 * i / 17) for i in range(17)]

CRY_POINTS = [cry_0, cry_1, cry_2, cry_3, cry_4, cry_5, cry_6, cry_7, cry_8, cry_9, cry_10,
              cry_12_5, cry_15, cry_17_5, cry_20, cry_22_5, cry_25]
TAD_POINTS = [tad_0, tad_1, tad_2, tad_3, tad_4, tad_5, tad_6, tad_7, tad_8, tad_9, tad_10,
              tad_12_5, tad_15, tad_17_5, tad_20, tad_22_5, tad_25]


def add_box_panel(points, q1, med, q3, xa, ya):
    for cat, vals, col in zip(CATS, points, HUE17):
        fig.add_trace(go.Box(
            x=[cat] * len(vals), y=vals, boxpoints="all", jitter=0.9, pointpos=0,
            marker=dict(color=col, size=5, opacity=0.45),
            line=dict(color="rgba(0,0,0,0)", width=0), fillcolor="rgba(0,0,0,0)",
            xaxis=xa, yaxis=ya, showlegend=False, hoverinfo="skip"))
    fig.add_trace(go.Box(
        x=CATS, q1=q1, median=med, q3=q3, lowerfence=q1, upperfence=q3,
        boxpoints=False, fillcolor="rgba(0,0,0,0)", whiskerwidth=0,
        line=dict(color="#9A9A9A", width=1.3),
        xaxis=xa, yaxis=ya, showlegend=False, hoverinfo="skip"))


add_box_panel(CRY_POINTS, CRY_Q1, CRY_MED, CRY_Q3, "x", "y")
add_box_panel(TAD_POINTS, TAD_Q1, TAD_MED, TAD_Q3, "x2", "y2")

# ---------------- line panels ----------------
B_LINES = [
    (b_n1, "#FF64B0"), (b_n2, "#00A9FF"), (b_n3, "#A3A500"), (b_n4, "#00B0F6"), (b_n5, "#9590FF"),
    (b_n6, "#F564E3"), (b_n7, "#E58700"), (b_n8, "#00BF7D"), (b_n9, "#D39200"), (b_n10, "#5BB300"),
    (b_magenta, "#E76BF3"), (b_purple, "#C77CFF"), (b_lav, "#8F91FF"), (b_blue, "#3F9DFF"),
    (b_cyan2, "#00B4EF"), (b_cyan1, "#00BCD0"), (b_tg2, "#00C1A7"), (b_tg1, "#00C08B"),
    (b_green3, "#00BD5C"), (b_green2, "#00BA38"), (b_green1, "#39B600"), (b_yg, "#7CAE00"),
    (b_olive, "#B79F00"), (b_gold, "#D89000"), (b_salmon, "#F8766D"), (b_pinkA, "#FC6C85"),
    (b_orange, "#F08A0A"),
]
for vals, col in B_LINES:
    fig.add_trace(go.Scatter(x=TIME_H, y=vals, mode="lines", line=dict(color=col, width=1.2),
                             xaxis="x3", yaxis="y3", showlegend=False, hoverinfo="skip"))

E_LINES = [
    (e_n1, "#FF64B0"), (e_n2, "#00A9FF"), (e_n3, "#A3A500"), (e_n4, "#00B0F6"), (e_n5, "#9590FF"),
    (e_n6, "#F564E3"), (e_n7, "#00BF7D"), (e_n8, "#E58700"), (e_n9, "#00BCD8"), (e_n10, "#C77CFF"),
    (e_n11, "#5BB300"), (e_n12, "#619CFF"),
    (e_blue, "#00ABFD"), (e_cyan, "#00BDD0"), (e_teal, "#00BF96"), (e_green2, "#00BB4E"),
    (e_green1, "#39B600"), (e_yg, "#8EAB00"), (e_olive, "#ABA300"), (e_gold, "#CD9600"),
    (e_orange2, "#E68613"), (e_orange1, "#F8741F"), (e_pink3, "#FC6F82"), (e_pink2, "#FF6C91"),
    (e_pink1, "#FF6C91"),
]
for vals, col in E_LINES:
    fig.add_trace(go.Scatter(x=SAMPLES, y=vals, mode="lines", line=dict(color=col, width=1.2),
                             xaxis="x4", yaxis="y4", showlegend=False, hoverinfo="skip"))

C_LINES = [
    (c_g1, "#ABABAB"), (c_g2, "#ABABAB"), (c_g3, "#ABABAB"), (c_g4, "#ABABAB"), (c_g5, "#ABABAB"),
    (c_g6, "#ABABAB"), (c_g7, "#ABABAB"),
    (c_spring, "#2EF08A"), (c_lime, "#86F02A"), (c_blueC, "#1F6BFF"), (c_blueB, "#2F8EFF"),
    (c_blueA, "#2A88FF"), (c_lightblue, "#36AEFF"), (c_darkblue, "#2A2AE6"),
    (c_orange, "#FF8A2A"), (c_red, "#FF2B2B"),
]
for vals, col in C_LINES:
    fig.add_trace(go.Scatter(x=TIME_H, y=vals, mode="lines", line=dict(color=col, width=1.6),
                             xaxis="x5", yaxis="y5", showlegend=False, hoverinfo="skip"))

F_LINES = [
    (f_g1, "#ABABAB"), (f_g2, "#ABABAB"), (f_g3, "#ABABAB"), (f_g4, "#ABABAB"), (f_g5, "#ABABAB"),
    (f_g6, "#ABABAB"), (f_g7, "#ABABAB"), (f_g8, "#ABABAB"),
    (f_green, "#1ED41E"), (f_lime, "#78EC2A"), (f_yg, "#C8F02A"), (f_aqua, "#3AF0B0"),
    (f_spring, "#2EEA7A"), (f_yellow, "#F2F020"), (f_lightblue, "#2AAAF5"), (f_blue, "#2B45E8"),
    (f_red2, "#FF4A1A"), (f_red1, "#FF2A1A"),
]
for vals, col in F_LINES:
    fig.add_trace(go.Scatter(x=SAMPLES, y=vals, mode="lines", line=dict(color=col, width=1.6),
                             xaxis="x6", yaxis="y6", showlegend=False, hoverinfo="skip"))


# ---------------- axes ----------------
def yax(domain, anchor, rng, tickvals, ticktext=None, size=13):
    d = dict(domain=domain, anchor=anchor, range=rng, tickmode="array", tickvals=tickvals,
             showline=True, linecolor="black", linewidth=1.8, ticks="outside", ticklen=4,
             tickwidth=1.2, tickcolor="black", tickfont=dict(size=size, color="black", family=FONT),
             showgrid=True, gridcolor=GRID, gridwidth=1, zeroline=False, fixedrange=True)
    if ticktext is not None:
        d["ticktext"] = ticktext
    return d


def xax_lines(domain, anchor, rng, tickvals, size=12.5, minor_dtick=None):
    d = dict(domain=domain, anchor=anchor, range=rng, tickmode="array", tickvals=tickvals,
             tickangle=-90, showline=True, linecolor="black", linewidth=1.8, ticks="outside",
             ticklen=4, tickwidth=1.2, tickcolor="black",
             tickfont=dict(size=size, color="black", family=FONT),
             showgrid=True, gridcolor=GRID, gridwidth=1, zeroline=False, fixedrange=True)
    if minor_dtick:
        d["minor"] = dict(dtick=minor_dtick, tick0=0, showgrid=True, gridcolor="#F7F7F7", ticks="")
    return d


def xax_box(domain, anchor):
    return dict(domain=domain, anchor=anchor, type="category", categoryorder="array",
                categoryarray=CATS, range=[-0.5, 16.5], tickmode="array", tickvals=CATS,
                ticktext=CATS, tickangle=-90, showline=False, ticks="",
                tickfont=dict(size=13, color="black", family=FONT), showgrid=True,
                gridcolor="#F3F3F3", zeroline=False, fixedrange=True)


fig.update_layout(
    width=W, height=H, margin=dict(l=0, r=0, t=0, b=0),
    paper_bgcolor="white", plot_bgcolor="white", showlegend=False,
    boxmode="overlay", boxgap=0.16,
    font=dict(family=FONT, color="black"),
    xaxis=xax_box([px(119.7), px(368.3)], "y"),
    yaxis=yax([py(303), py(60)], "x", [-0.061, 1.0], R2_TICKS, R2_TICKTEXT, size=14.5),
    xaxis2=xax_box([px(643.7), px(892.3)], "y2"),
    yaxis2=yax([py(303), py(60)], "x2", [-0.0565, 1.0], R2_TICKS, R2_TICKTEXT, size=14.5),
    xaxis3=xax_lines([px(67), px(508)], "y3", [0, 528], TIME_TICKS, minor_dtick=12),
    yaxis3=yax([py(638), py(436)], "x3", [0, 100], [0, 20, 40, 60, 80, 100]),
    xaxis4=xax_lines([px(591), px(1032)], "y4", [1, 36], SAMPLES),
    yaxis4=yax([py(643), py(433)], "x4", [0, 102], [0, 20, 40, 60, 80, 100]),
    xaxis5=xax_lines([px(62), px(508)], "y5", [0, 528], TIME_TICKS, minor_dtick=12),
    yaxis5=yax([py(937), py(734)], "x5", [0, 91.2], [0, 20, 40, 60, 80]),
    xaxis6=xax_lines([px(584), px(1033)], "y6", [1, 36], SAMPLES),
    yaxis6=yax([py(943), py(733)], "x6", [0, 64.3], [0, 10, 20, 30, 40, 50, 60]),
)

# ---------------- text ----------------
ANN = []


def ann(text, x, y, size=13, angle=0, bold=False, xanchor="center", yanchor="middle"):
    ANN.append(dict(text=("<b>%s</b>" % text) if bold else text, x=px(x), y=py(y),
                    xref="paper", yref="paper", showarrow=False, textangle=angle,
                    xanchor=xanchor, yanchor=yanchor,
                    font=dict(size=size, color="black", family=FONT)))


# panel letters
ann("a", 14, 27, 21, bold=True)
ann("d", 536, 27, 21, bold=True)
ann("b", 14, 388, 21, bold=True)
ann("e", 536, 388, 21, bold=True)
ann("c", 14, 687, 21, bold=True)
ann("f", 536, 686, 21, bold=True)

# a / d
ann("Cry1ac", 209, 40, 18.5)
ann("TadA", 733, 40, 18.5)
for x0 in (0, 524):
    ann("<i>R</i><sup>2</sup> between observed and inferred", 55 + x0, 181, 13, angle=-90)
    ann("full-length genotype frequencies from data", 69.5 + x0, 181, 13, angle=-90)
    ann("with complete loss of physical linkage", 84 + x0, 181, 13, angle=-90)
ann("Synthetic noise (standard deviation, %)", 245, 345, 13)
ann("Synthetic noise (standard deviation, %)", 768, 345, 13)

# b / e
for cx in (279, 803):
    ann("Mutation frequencies with 5% noise s.d.", cx, 405, 14)
    ann("(model input)", cx, 421, 14)
ann("Fraction of sequenced reads (%)", 34, 537, 13, angle=-90)
ann("Fraction of sequenced reads (%)", 556, 537, 13, angle=-90)
ann("Time (h)", 283, 675, 13)
ann("Sample", 812, 675, 13)

# c / f
for cx in (271, 794):
    ann("Inferred full-length genotype trajectories from", cx, 702, 14)
    ann("data with 5% noise s.d. and complete loss of", cx, 717, 14)
    ann("physical linkage", cx, 733, 14)
ann("Predicted fraction of sequenced reads (%)", 34, 835, 13, angle=-90)
ann("Predicted fraction of sequenced reads (%)", 555, 838, 13, angle=-90)
ann("Time (h)", 285, 969, 13)
ann("Sample", 808, 969, 13)

fig.update_layout(annotations=ANN)

fig.write_html("out.html")
